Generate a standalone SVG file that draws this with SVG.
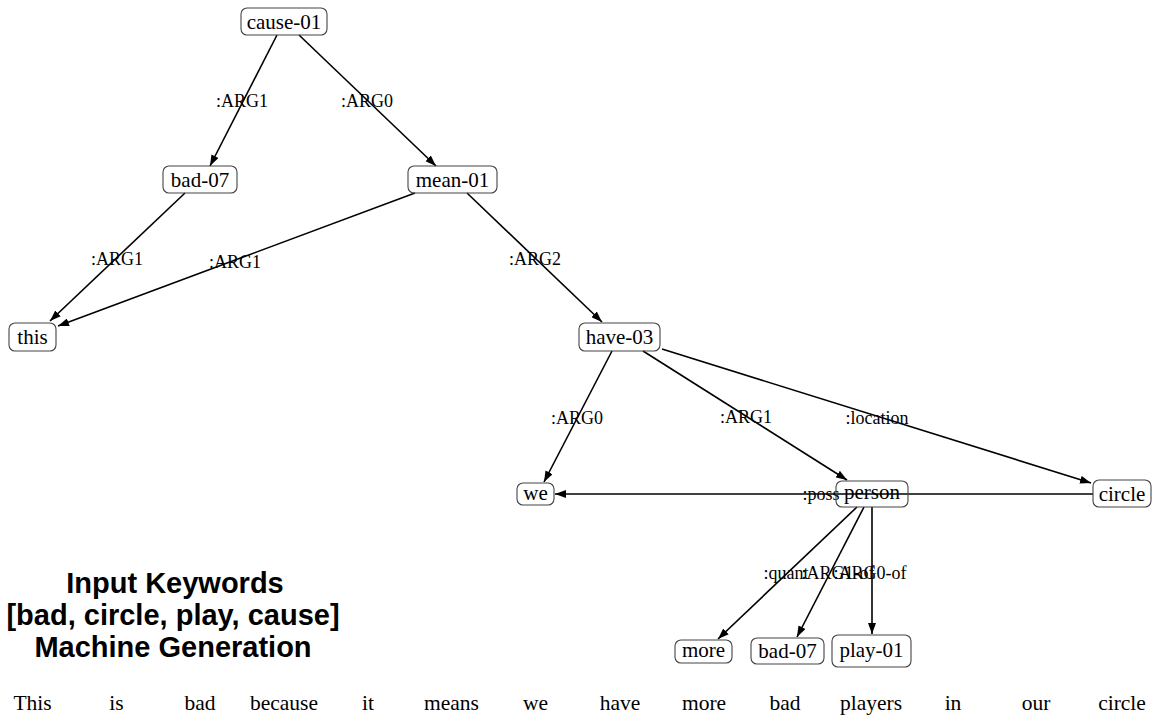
<svg xmlns="http://www.w3.org/2000/svg" width="1152" height="717" viewBox="0 0 1152 717">
<style>
.box{fill:none;stroke:#444;stroke-width:1.1}
.nt{font-family:"Liberation Serif","Times New Roman",serif;font-size:21px;fill:#000;text-anchor:middle}
.el{font-family:"Liberation Serif","Times New Roman",serif;font-size:18px;fill:#000;text-anchor:middle}
.edge{stroke:#000;stroke-width:1.6;fill:none;marker-end:url(#arr)}
.hd{font-family:"Liberation Sans",Arial,sans-serif;font-size:29px;font-weight:bold;fill:#000;text-anchor:middle}
.w{font-family:"Liberation Serif","Times New Roman",serif;font-size:21.5px;fill:#000;text-anchor:middle}
</style>
<defs>
<marker id="arr" viewBox="0 0 11 8" refX="11" refY="4" markerWidth="11" markerHeight="8" markerUnits="userSpaceOnUse" orient="auto">
<path d="M0,0 L11,4 L0,8 Z" fill="#000"/>
</marker>
</defs>
<rect width="1152" height="717" fill="#fff"/>
<g id="connectors">
<line class="edge" x1="277" y1="35" x2="210" y2="166"/>
<line class="edge" x1="299" y1="35" x2="436" y2="166"/>
<line class="edge" x1="185" y1="193" x2="50" y2="321"/>
<line class="edge" x1="415" y1="193" x2="58" y2="326"/>
<line class="edge" x1="467" y1="193" x2="602" y2="322"/>
<line class="edge" x1="612" y1="351" x2="544" y2="482"/>
<line class="edge" x1="643" y1="351" x2="847" y2="480"/>
<line class="edge" x1="662" y1="349" x2="1091" y2="483"/>
<line class="edge" x1="1093" y1="494" x2="555" y2="494"/>
<line class="edge" x1="857" y1="507" x2="718" y2="639"/>
<line class="edge" x1="864" y1="507" x2="797" y2="637"/>
<line class="edge" x1="872" y1="507" x2="872" y2="634"/>
<text class="el" x="242" y="107">:ARG1</text>
<text class="el" x="367" y="107">:ARG0</text>
<text class="el" x="117" y="265">:ARG1</text>
<text class="el" x="235" y="268">:ARG1</text>
<text class="el" x="535" y="265">:ARG2</text>
<text class="el" x="577" y="424">:ARG0</text>
<text class="el" x="746" y="423">:ARG1</text>
<text class="el" x="877" y="424">:location</text>
<text class="el" x="821" y="500">:poss</text>
<text class="el" x="786" y="579">:quant</text>
<text class="el" x="838" y="579">:ARG1-of</text>
<text class="el" x="870" y="579">:ARG0-of</text>
</g>
<g id="n-cause01"><rect class="box" x="241" y="8" width="86" height="27" rx="6"/><text class="nt" x="284" y="29">cause-01</text></g>
<g id="n-bad07a"><rect class="box" x="163" y="166" width="74" height="27" rx="6"/><text class="nt" x="200" y="187">bad-07</text></g>
<g id="n-mean01"><rect class="box" x="408" y="166" width="89" height="27" rx="6"/><text class="nt" x="452.5" y="187">mean-01</text></g>
<g id="n-this"><rect class="box" x="9" y="323" width="47" height="28" rx="6"/><text class="nt" x="32.5" y="344">this</text></g>
<g id="n-have03"><rect class="box" x="579" y="323" width="81" height="28" rx="6"/><text class="nt" x="619.5" y="344">have-03</text></g>
<g id="n-we"><rect class="box" x="517" y="483" width="37" height="22" rx="6"/><text class="nt" x="535.5" y="500">we</text></g>
<g id="n-person"><rect class="box" x="836" y="481" width="72" height="26" rx="6"/><text class="nt" x="872" y="499">person</text></g>
<g id="n-circle"><rect class="box" x="1093" y="480" width="58" height="27" rx="6"/><text class="nt" x="1122" y="501">circle</text></g>
<g id="n-more"><rect class="box" x="675" y="640" width="57" height="23" rx="6"/><text class="nt" x="703.5" y="657">more</text></g>
<g id="n-bad07b"><rect class="box" x="751" y="638" width="73" height="26" rx="6"/><text class="nt" x="787.5" y="658">bad-07</text></g>
<g id="n-play01"><rect class="box" x="832" y="635" width="79" height="32" rx="6"/><text class="nt" x="871.5" y="657">play-01</text></g>
<g id="heading">
<text class="hd" x="175" y="593">Input Keywords</text>
<text class="hd" x="173" y="625">[bad, circle, play, cause]</text>
<text class="hd" x="173" y="657">Machine Generation</text>
</g>
<g id="sentence">
<text class="w" x="32.5" y="710">This</text>
<text class="w" x="116.5" y="710">is</text>
<text class="w" x="200" y="710">bad</text>
<text class="w" x="284" y="710">because</text>
<text class="w" x="368" y="710">it</text>
<text class="w" x="451.5" y="710">means</text>
<text class="w" x="535.5" y="710">we</text>
<text class="w" x="620" y="710">have</text>
<text class="w" x="704" y="710">more</text>
<text class="w" x="785" y="710">bad</text>
<text class="w" x="871" y="710">players</text>
<text class="w" x="953" y="710">in</text>
<text class="w" x="1036" y="710">our</text>
<text class="w" x="1122" y="710">circle</text>
</g>
</svg>
